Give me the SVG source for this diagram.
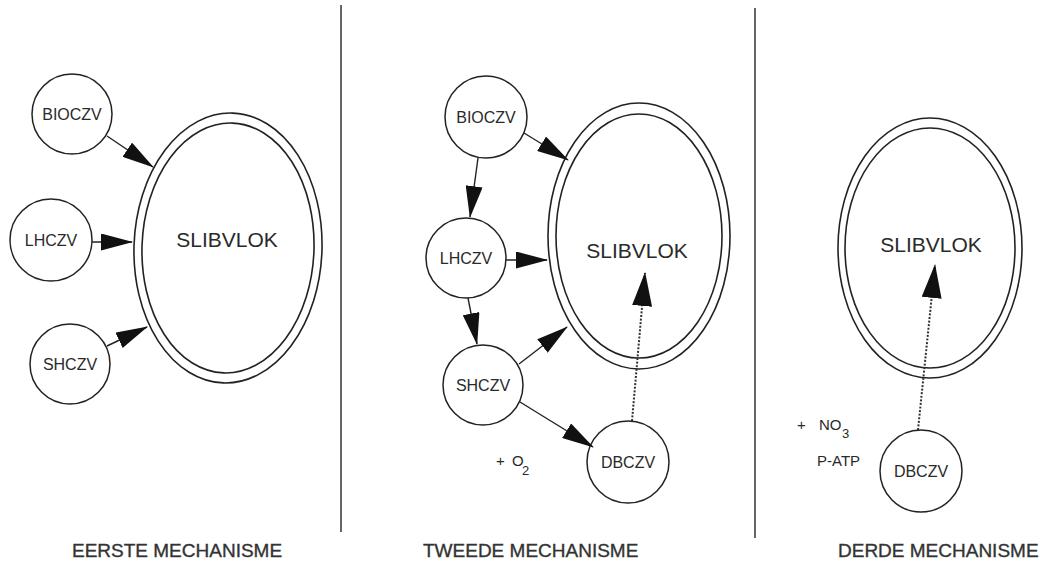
<svg xmlns="http://www.w3.org/2000/svg" width="1046" height="561" viewBox="0 0 1046 561">
<style>
  .node circle { fill: #fff; stroke: #222; stroke-width: 1.5; }
  .node text { font-family: "Liberation Sans", Arial, sans-serif; font-size: 16px; fill: #2a2a2a; text-anchor: middle; }
  .floc ellipse { fill: none; stroke: #222; stroke-width: 1.6; }
  .floc text { font-family: "Liberation Sans", Arial, sans-serif; font-size: 21px; fill: #2a2a2a; text-anchor: middle; }
  .conn { stroke: #222; stroke-width: 1.4; fill: none; marker-end: url(#ah); }
  .dot { stroke: #333; stroke-width: 2; stroke-dasharray: 2 1.6; fill: none; marker-end: url(#ahBig); }
  .lbl { font-family: "Liberation Sans", Arial, sans-serif; font-size: 15px; fill: #2a2a2a; }
  .title { font-family: "Liberation Sans", Arial, sans-serif; font-size: 19px; fill: #333; stroke: #333; stroke-width: 0.35; }
  .div { stroke: #333; stroke-width: 1.5; }
</style>
<defs>
  <marker id="ah" markerUnits="userSpaceOnUse" markerWidth="32" markerHeight="17" refX="31" refY="8.5" orient="auto">
    <path d="M0,0 L32,8.5 L0,17 z" fill="#111"/>
  </marker>
  <marker id="ahBig" markerUnits="userSpaceOnUse" markerWidth="34" markerHeight="20" refX="33" refY="10" orient="auto">
    <path d="M0,0 L34,10 L0,20 z" fill="#111"/>
  </marker>
</defs>
<rect width="1046" height="561" fill="#fff"/>

<g id="dividers">
  <line class="div" x1="341" y1="5" x2="341" y2="532"/>
  <line class="div" x1="755" y1="8" x2="755" y2="538"/>
</g>

<!-- Panel 1 -->
<g id="p1-slibvlok" class="floc">
  <ellipse cx="228" cy="248" rx="94" ry="135" transform="rotate(2 228 248)"/>
  <ellipse cx="228" cy="248" rx="86" ry="125" transform="rotate(2 228 248)"/>
  <text x="227" y="247">SLIBVLOK</text>
</g>
<g id="p1-bioczv" class="node"><circle cx="72" cy="114" r="40"/><text x="72" y="120">BIOCZV</text></g>
<g id="p1-lhczv" class="node"><circle cx="51" cy="240" r="41"/><text x="51" y="246">LHCZV</text></g>
<g id="p1-shczv" class="node"><circle cx="70" cy="364" r="40"/><text x="70" y="370">SHCZV</text></g>

<!-- Panel 2 -->
<g id="p2-slibvlok" class="floc">
  <ellipse cx="639" cy="236" rx="91" ry="133"/>
  <ellipse cx="639" cy="236" rx="83" ry="122"/>
  <text x="637" y="258">SLIBVLOK</text>
</g>
<g id="p2-bioczv" class="node"><circle cx="486" cy="117" r="41"/><text x="486" y="123">BIOCZV</text></g>
<g id="p2-lhczv" class="node"><circle cx="466" cy="258" r="40"/><text x="466" y="264">LHCZV</text></g>
<g id="p2-shczv" class="node"><circle cx="483" cy="385" r="40"/><text x="483" y="391">SHCZV</text></g>
<g id="p2-dbczv" class="node"><circle cx="628" cy="462" r="41"/><text x="628" y="468">DBCZV</text></g>
<g id="p2-o2" class="lbl">
  <text x="496" y="466">+</text>
  <text x="512" y="466">O</text>
  <text x="522" y="475" font-size="13">2</text>
</g>

<!-- Panel 3 -->
<g id="p3-slibvlok" class="floc">
  <ellipse cx="930" cy="248" rx="92" ry="130"/>
  <ellipse cx="930" cy="248" rx="85" ry="120"/>
  <text x="931" y="252">SLIBVLOK</text>
</g>
<g id="p3-dbczv" class="node"><circle cx="921" cy="471" r="41"/><text x="921" y="477">DBCZV</text></g>
<g id="p3-no3" class="lbl">
  <text x="797" y="430">+</text>
  <text x="819" y="430">NO</text>
  <text x="842" y="438" font-size="13">3</text>
  <text x="817" y="466">P-ATP</text>
</g>

<!-- Connectors -->
<g id="connectors">
  <line class="conn" x1="107" y1="136" x2="153" y2="167"/>
  <line class="conn" x1="92" y1="242" x2="132" y2="242"/>
  <line class="conn" x1="107" y1="346" x2="147" y2="327"/>

  <line class="conn" x1="524" y1="133" x2="568" y2="160"/>
  <line class="conn" x1="478" y1="158" x2="470" y2="217"/>
  <line class="conn" x1="506" y1="260" x2="547" y2="260"/>
  <line class="conn" x1="468" y1="298" x2="477" y2="344"/>
  <line class="conn" x1="519" y1="364" x2="567" y2="327"/>
  <line class="conn" x1="520" y1="402" x2="593" y2="447"/>
  <line class="dot" x1="632" y1="421" x2="645" y2="273"/>

  <line class="dot" x1="918" y1="430" x2="935" y2="265"/>
</g>

<!-- Titles -->
<g id="titles" class="title">
  <text x="72" y="557">EERSTE MECHANISME</text>
  <text x="423" y="557">TWEEDE MECHANISME</text>
  <text x="838" y="557">DERDE MECHANISME</text>
</g>
</svg>
